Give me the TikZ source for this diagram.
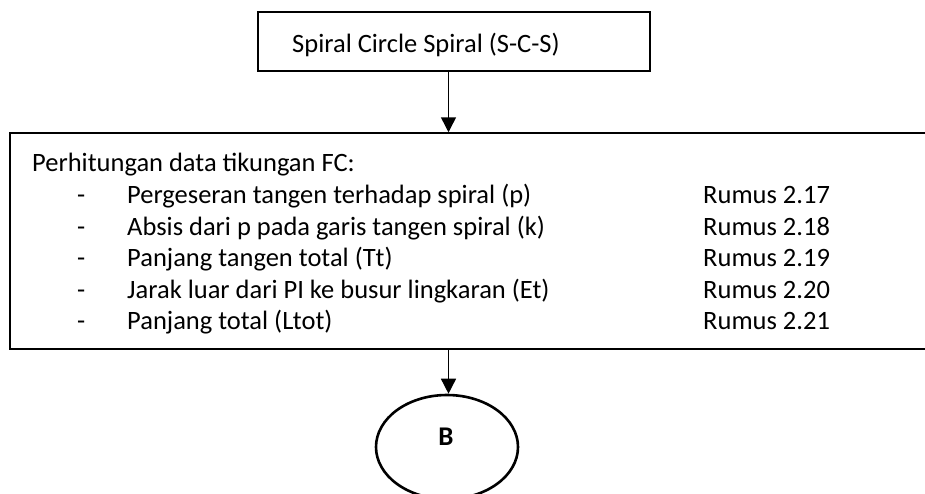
\documentclass[tikz,border=0pt]{standalone}
\usepackage{fontspec}
\setmainfont{Carlito}
\usetikzlibrary{arrows.meta,shapes.geometric}
\begin{document}
\begin{tikzpicture}[x=1pt,y=-1pt,
  txt/.style={anchor=base west,inner sep=0pt,font=\fontsize{26.5}{31}\selectfont},
  frame/.style={draw,line width=1.5pt,inner sep=0pt},
  arr/.style={line width=1.5pt,-{Triangle[width=15pt,length=15pt]}}]
\useasboundingbox (0,0) rectangle (925,493);
\clip (0,0) rectangle (925,493);
% boxes and terminator
\node[frame,minimum width=392pt,minimum height=59pt] (scs) at (454,41.5) {};
\node[frame,minimum width=940pt,minimum height=216pt] (fc) at (480,241) {};
\node[draw,line width=2.6pt,ellipse,minimum width=142pt,minimum height=104pt,inner sep=0pt] (b) at (447,447) {};
\node[font=\fontsize{27}{31}\selectfont\bfseries,inner sep=0pt] (bl) at (446,437) {B};
% texts
\node[txt] (t0) at (292,52) {Spiral Circle Spiral (S-C-S)};
\node[txt] (h) at (32,171) {Perhitungan data tikungan FC:};
\foreach \i/\y/\line/\num in {1/203/Pergeseran tangen terhadap spiral (p)/2.17,
  2/235/Absis dari p pada garis tangen spiral (k)/2.18,
  3/266/Panjang tangen total (Tt)/2.19,
  4/298/Jarak luar dari PI ke busur lingkaran (Et)/2.20,
  5/329/Panjang total (Ltot)/2.21}{
  \node[txt] (d\i) at (77,\y) {-};
  \node[txt] (i\i) at (127,\y) {\line};
  \node[txt] (r\i) at (703,\y) {Rumus \num};
}
% connectors
\draw[arr] (scs.south -| 448.5,0) -- (fc.north -| 448.5,0);
\draw[arr] (fc.south -| 448.5,0) -- (b.north -| 448.5,0);
\end{tikzpicture}
\end{document}
